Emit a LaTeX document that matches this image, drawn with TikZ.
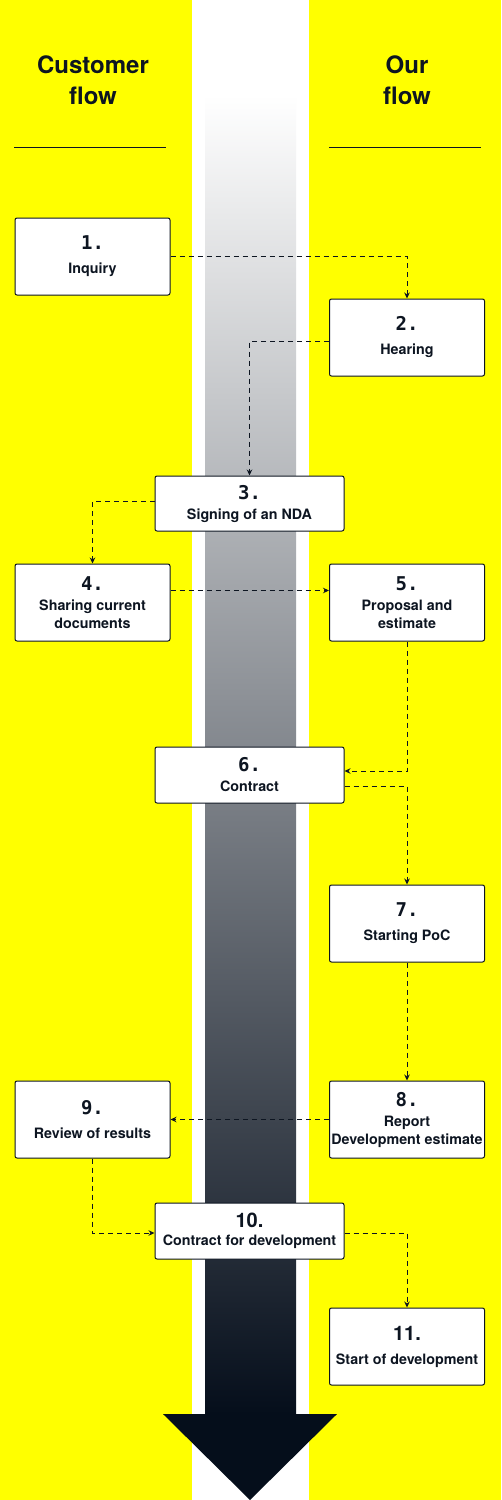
\documentclass[tikz,border=0pt]{standalone}
\usepackage{fontspec}
\setmainfont{TeX Gyre Heros}
\newfontfamily\numfont{DejaVu Sans Mono}
\usetikzlibrary{arrows.meta,calc}
\definecolor{ylw}{RGB}{255,255,0}
\definecolor{ink}{RGB}{13,21,33}
\definecolor{shaftbot}{RGB}{5,14,27}
\tikzset{
 box/.style={draw=ink, line width=1pt, fill=white, rounded corners=2pt,
   minimum width=155pt, minimum height=77pt, inner sep=0pt, align=center,
   text=ink, font=\bfseries\fontsize{14.3}{18}\selectfont},
 wbox/.style={box, minimum width=189pt, minimum height=55pt},
 conn/.style={draw=ink, line width=1pt, dash pattern=on 5pt off 4pt,
   -{Stealth[length=6pt,width=5.5pt]}},
 hdr/.style={font=\bfseries\fontsize{24}{31}\selectfont, text=ink, align=center},
 rule/.style={draw=ink, line width=1pt},
}
\newcommand\numtxt[1]{{\numfont\bfseries\fontsize{19}{22}\selectfont #1}}
\newcommand\numsans[1]{{\bfseries\fontsize{20}{22}\selectfont #1}}
\begin{document}
\begin{tikzpicture}[x=1pt,y=-1pt]
\useasboundingbox (0,0) rectangle (501,1500);
% background
\fill[ylw] (0,0) rectangle (501,1500);
\fill[white] (192,0) rectangle (309,1500);
\shade[top color=white, bottom color=shaftbot] (205,95) rectangle (296,1414.5);
\fill[shaftbot] (163,1414) -- (337,1414) -- (250,1500) -- cycle;
% headers
\node[hdr] (hdrL) at (93,80) {Customer\\flow};
\node[hdr] (hdrR) at (407,80) {Our\\flow};
\draw[rule] (14,147) -- (166,147);
\draw[rule] (329,147) -- (481,147);
% boxes
\node[box] (n1) at (92.5,256.5) {\numtxt{1.}\\[6pt]Inquiry};
\node[box] (n2) at (407,337.5) {\numtxt{2.}\\[6pt]Hearing};
\node[wbox] (n3) at (249.5,503.5) {\numtxt{3.}\\[2pt]Signing of an NDA};
\node[box] (n4) at (92.5,602.5) {\numtxt{4.}\\[2pt]Sharing current\\documents};
\node[box] (n5) at (407,602.5) {\numtxt{5.}\\[2pt]Proposal and\\estimate};
\node[wbox, minimum height=56pt] (n6) at (249.5,775) {\numtxt{6.}\\[2pt]Contract};
\node[box] (n7) at (407,923.5) {\numtxt{7.}\\[6pt]Starting PoC};
\node[box] (n8) at (407,1119.5) {\numtxt{8.}\\[2pt]Report\\Development estimate};
\node[box] (n9) at (92.5,1119.5) {\numtxt{9.}\\[6pt]Review of results};
\node[wbox, minimum height=56pt] (n10) at (249.5,1231) {\numsans{10.}\\[0pt]Contract for development};
\node[box] (n11) at (407,1346.5) {\numsans{11.}\\[6pt]Start of development};
% connectors
\draw[conn] (n1.east) -| (n2.north);
\draw[conn] ($(n2.west)+(0,3.5)$) -| (n3.north);
\draw[conn] ($(n3.west)+(0,-2.5)$) -| (n4.north);
\draw[conn] ($(n4.east)+(0,-12)$) -- ($(n5.west)+(0,-12)$);
\draw[conn] (n5.south) |- ($(n6.east)+(0,-4)$);
\draw[conn] ($(n6.east)+(0,11)$) -| (n7.north);
\draw[conn] (n7.south) -- (n8.north);
\draw[conn] (n8.west) -- (n9.east);
\draw[conn] (n9.south) |- ($(n10.west)+(0,2)$);
\draw[conn] ($(n10.east)+(0,2)$) -| (n11.north);
\end{tikzpicture}
\end{document}
